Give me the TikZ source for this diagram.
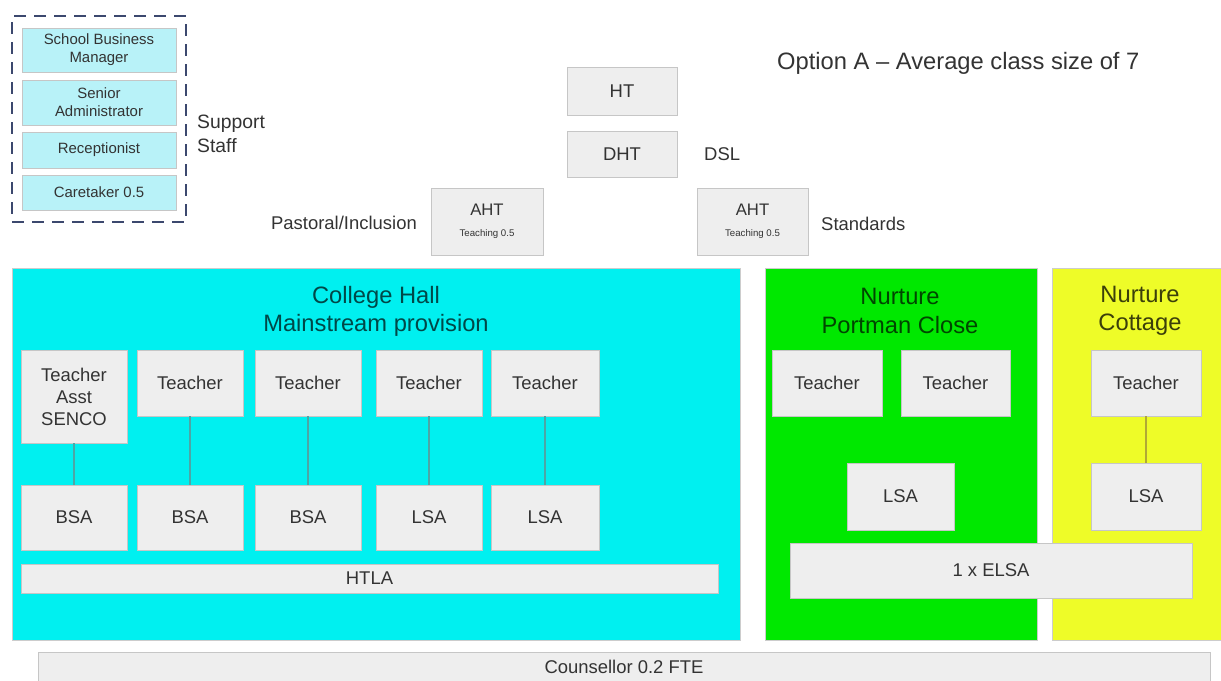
\documentclass[tikz,border=0pt]{standalone}
\usepackage{fontspec}
\setmainfont{Liberation Sans}
\usetikzlibrary{fit}
\definecolor{hallcyan}{RGB}{0,240,240}
\definecolor{portgreen}{RGB}{0,232,0}
\definecolor{cottyellow}{RGB}{238,252,40}
\definecolor{boxgray}{RGB}{238,238,238}
\definecolor{supcyan}{RGB}{184,242,248}
\definecolor{dashblue}{RGB}{60,72,110}
\begin{document}
\begin{tikzpicture}[x=0.2mm,y=-0.2mm,
	every node/.style={font=\fontsize{10.5}{12.5}\selectfont,text=black!80},
	post/.style={draw=gray!45,fill=boxgray,line width=0.5pt,inner sep=1pt,align=center},
	teacherbox/.style={post,minimum width=21.2mm,minimum height=13.2mm},
	staffbox/.style={post,minimum width=21.2mm,minimum height=13mm},
	office/.style={post,fill=supcyan,minimum width=30.8mm,font=\fontsize{8.5}{10.2}\selectfont},
	lead/.style={post,minimum width=22mm},
	group/.style={draw=gray!40,line width=0.4pt},
	grouptitle/.style={align=center,font=\fontsize{13.5}{16}\selectfont},
	link/.style={draw=#1,line width=0.6pt}]
	\useasboundingbox(0,0)rectangle(1221,680);
	% support staff
	\node[office,minimum height=8.8mm](sbm)at(99,50){School Business\\Manager};
	\node[office,minimum height=9mm](sadm)at(99,102.5){Senior\\Administrator};
	\node[office,minimum height=7.2mm](recep)at(99,150){Receptionist};
	\node[office,minimum height=7mm](care)at(99,192.5){Caretaker 0.5};
	\node[fit=(sbm)(care),inner xsep=1.9mm,inner ysep=2.3mm,draw=dashblue,line width=1.6pt,
		dash pattern=on 2.4mm off 1.6mm](support){};
	\node[anchor=west,align=left,font=\fontsize{11}{13.6}\selectfont](suplabel)at(191,134){Support\\Staff};
	% leadership
	\node[lead,minimum height=9.6mm](ht)at(622,91){HT};
	\node[lead,minimum height=9.2mm](dht)at(622,154){DHT};
	\node[anchor=west](dsl)at(698,154){DSL};
	\node[lead,minimum width=22.4mm,minimum height=13.4mm,font=\fontsize{9.5}{11}\selectfont](ahtl)at(487,221.5)
		{AHT\\[1pt]{\fontsize{5.5}{7}\selectfont Teaching 0.5}};
	\node[lead,minimum width=22.2mm,minimum height=13.4mm,font=\fontsize{9.5}{11}\selectfont](ahtr)at(752.5,221.5)
		{AHT\\[1pt]{\fontsize{5.5}{7}\selectfont Teaching 0.5}};
	\node[anchor=east](pastoral)at(423,223){Pastoral/Inclusion};
	\node[anchor=west](standards)at(815,224){Standards};
	\node[anchor=west,font=\fontsize{13.5}{16}\selectfont](option)at(771,63){Option A -- Average class size of 7};
	% college hall
	\node[group,fill=hallcyan,minimum width=145.6mm,minimum height=74.4mm](hall)at(376,454){};
	\node[grouptitle,text=hallcyan!30!black](halltitle)at(376,311){College Hall\\Mainstream provision};
	\node[teacherbox,minimum height=18.6mm](senco)at(74,396.5){Teacher\\Asst\\SENCO};
	\node[teacherbox](t1)at(190,383){Teacher};
	\node[teacherbox](t2)at(308,383){Teacher};
	\node[teacherbox](t3)at(429,383){Teacher};
	\node[teacherbox,minimum width=21.6mm](t4)at(545,383){Teacher};
	\node[staffbox](s0)at(74,517.5){BSA};
	\node[staffbox](s1)at(190,517.5){BSA};
	\node[staffbox](s2)at(308,517.5){BSA};
	\node[staffbox](s3)at(429,517.5){LSA};
	\node[staffbox,minimum width=21.6mm](s4)at(545,517.5){LSA};
	\node[post,minimum width=139.4mm,minimum height=5.8mm](htla)at(369.5,578.5){HTLA};
	\draw[link=teal!70](senco)--(s0);
	\foreach \i in {1,...,4}
		\draw[link=teal!70](t\i)--(s\i);
	% portman close
	\node[group,fill=portgreen,minimum width=54.4mm,minimum height=74.4mm](portman)at(901,454){};
	\node[grouptitle,text=portgreen!30!black](porttitle)at(900,311){Nurture\\Portman Close};
	\node[teacherbox,minimum width=22mm](pt1)at(827,383){Teacher};
	\node[teacherbox,minimum width=21.8mm](pt2)at(955.5,383){Teacher};
	\node[teacherbox,minimum width=21.4mm,minimum height=13.4mm](plsa)at(900.5,496.5){LSA};
	% cottage
	\node[group,fill=cottyellow,minimum width=35mm,minimum height=74.4mm](cottage)at(1140,454){};
	\node[grouptitle,text=cottyellow!25!black](cotttitle)at(1140,311){Nurture\\Cottage};
	\node[teacherbox,minimum width=22mm](ct)at(1146,383){Teacher};
	\node[teacherbox,minimum width=22mm,minimum height=13.4mm](clsa)at(1146,496.5){LSA};
	\draw[link=olive!70](ct)--(clsa);
	\node[post,minimum width=80.4mm,minimum height=11mm](elsa)at(991,570.5){1 x ELSA};
	% counsellor
	\node[post,minimum width=234.4mm,minimum height=6mm](couns)at(624,667){Counsellor 0.2 FTE};
\end{tikzpicture}
\end{document}
